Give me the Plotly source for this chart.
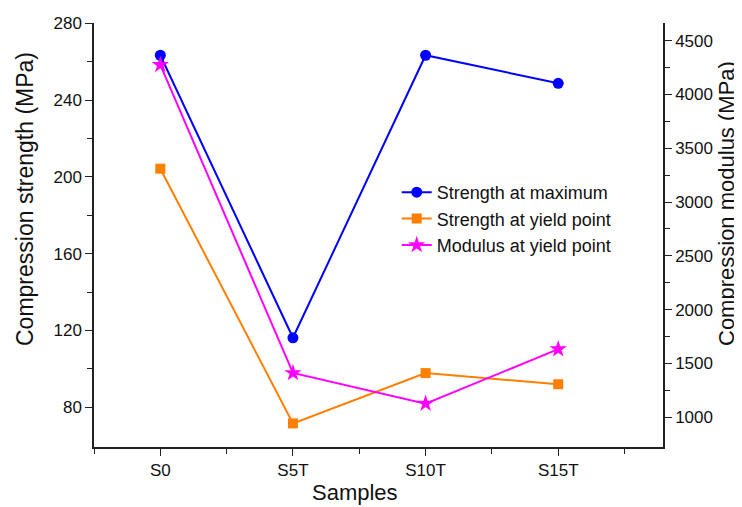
import plotly.graph_objects as go

samples = ["S0", "S5T", "S10T", "S15T"]
x_pos = [0, 1, 2, 3]
strength_max = [263.4, 116.2, 263.4, 248.8]
strength_yield = [204.3, 71.6, 97.8, 92.0]
modulus_yield = [4275, 1412, 1127, 1633]

fig = go.Figure()
fig.add_trace(go.Scatter(x=x_pos, y=strength_max, mode="lines+markers",
                         name="Strength at maximum",
                         line=dict(color="#0000ff", width=2),
                         marker=dict(symbol="circle", size=11, color="#0000ff")))
fig.add_trace(go.Scatter(x=x_pos, y=strength_yield, mode="lines+markers",
                         name="Strength at yield point",
                         line=dict(color="#ff7f00", width=2),
                         marker=dict(symbol="square", size=10, color="#ff7f00")))
fig.add_trace(go.Scatter(x=x_pos, y=modulus_yield, mode="lines+markers",
                         name="Modulus at yield point", yaxis="y2",
                         line=dict(color="#ff00ff", width=2),
                         marker=dict(symbol="star", size=13, color="#ff00ff")))

font = "Liberation Sans, Arial, sans-serif"
axcol = "#222222"
tickfont = dict(size=17, color="#111111")
common = dict(showline=True, linecolor=axcol, linewidth=1.5, ticks="outside",
              ticklen=7, tickwidth=1.2, tickcolor=axcol, showgrid=False,
              zeroline=False, automargin=False, tickfont=tickfont)

# page is shown with an 8px body margin, so the figure is 8px smaller on each side
fig.update_layout(
    width=734, height=499,
    margin=dict(l=86, r=79, t=15, b=60, autoexpand=False),
    paper_bgcolor="white", plot_bgcolor="white",
    font=dict(family=font, color="#111111", size=17),
    xaxis=dict(range=[-0.5, 3.79], tickvals=x_pos, ticktext=samples,
               minor=dict(tickvals=[-0.5, 0.5, 1.5, 2.5, 3.5], ticks="outside",
                          ticklen=5, tickcolor=axcol),
               **common),
    yaxis=dict(range=[59.3, 280.2], tickvals=[80, 120, 160, 200, 240, 280],
               minor=dict(tickvals=[100, 140, 180, 220, 260], ticks="outside",
                          ticklen=5, tickcolor=axcol),
               **common),
    yaxis2=dict(range=[724, 4664], overlaying="y", side="right",
                tickvals=[1000, 1500, 2000, 2500, 3000, 3500, 4000, 4500],
                minor=dict(tickvals=[1250, 1750, 2250, 2750, 3250, 3750, 4250],
                           ticks="outside", ticklen=5, tickcolor=axcol),
                **common),
    legend=dict(x=0.532, y=0.644, xanchor="left", yanchor="top",
                bgcolor="rgba(0,0,0,0)", font=dict(size=18, color="#111111"),
                tracegroupgap=0),
    showlegend=True,
    annotations=[
        dict(text="Compression strength (MPa)", xref="paper", yref="paper",
             x=(25 - 94) / 569, y=(447 - 199) / 424, textangle=-90,
             showarrow=False, xanchor="center", yanchor="middle",
             font=dict(size=23, color="#111111")),
        dict(text="Compression modulus (MPa)", xref="paper", yref="paper",
             x=(726 - 94) / 569, y=(447 - 204) / 424, textangle=-90,
             showarrow=False, xanchor="center", yanchor="middle",
             font=dict(size=22, color="#111111")),
        dict(text="Samples", xref="paper", yref="paper",
             x=(355 - 94) / 569, y=(447 - 492) / 424,
             showarrow=False, xanchor="center", yanchor="middle",
             font=dict(size=22, color="#111111")),
    ],
)

fig.write_html("out.html")
